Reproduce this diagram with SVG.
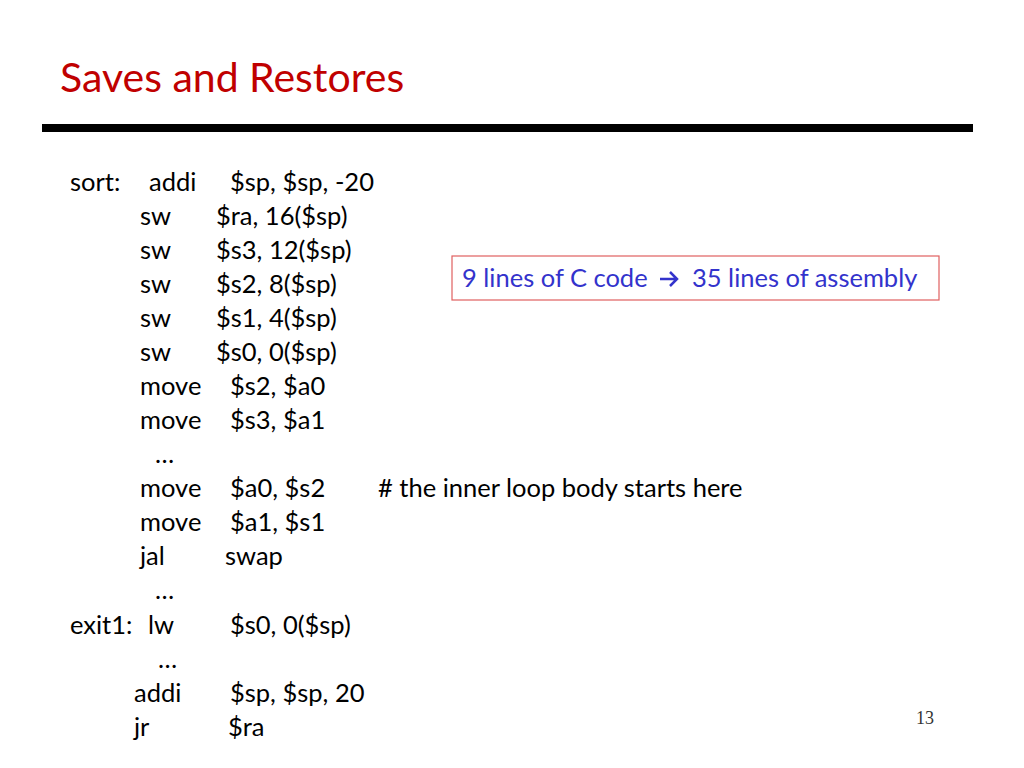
<svg xmlns="http://www.w3.org/2000/svg" width="1024" height="768" viewBox="0 0 1024 768">
<style>
.t{font-family:Lato,"Open Sans","Liberation Sans",sans-serif;font-size:25.5px;fill:#000}
.b{fill:#3333cc}
</style>
<rect width="1024" height="768" fill="#fff"/>
<text x="60" y="92" font-family="Lato,'Open Sans','Liberation Sans',sans-serif" font-size="41" fill="#c00000">Saves and Restores</text>
<rect x="42" y="124" width="931" height="8" fill="#000"/>
<g>
<text x="70" y="191" class="t">sort:</text><text x="149" y="191" class="t">addi</text><text x="230" y="191" class="t">$sp, $sp, -20</text>
<text x="140" y="225" class="t">sw</text><text x="216" y="225" class="t">$ra, 16($sp)</text>
<text x="140" y="259" class="t">sw</text><text x="216" y="259" class="t">$s3, 12($sp)</text>
<text x="140" y="293" class="t">sw</text><text x="216" y="293" class="t">$s2, 8($sp)</text>
<text x="140" y="327" class="t">sw</text><text x="216" y="327" class="t">$s1, 4($sp)</text>
<text x="140" y="361" class="t">sw</text><text x="216" y="361" class="t">$s0, 0($sp)</text>
<text x="140" y="395" class="t">move</text><text x="230" y="395" class="t">$s2, $a0</text>
<text x="140" y="429" class="t">move</text><text x="230" y="429" class="t">$s3, $a1</text>
<text x="155" y="463" class="t">…</text>
<text x="140" y="497" class="t">move</text><text x="230" y="497" class="t">$a0, $s2</text><text x="378" y="497" class="t"># the inner loop body starts here</text>
<text x="140" y="531" class="t">move</text><text x="230" y="531" class="t">$a1, $s1</text>
<text x="140" y="565" class="t">jal</text><text x="225" y="565" class="t">swap</text>
<text x="155" y="599" class="t">…</text>
<text x="70" y="634" class="t">exit1:</text><text x="148" y="634" class="t">lw</text><text x="230" y="634" class="t">$s0, 0($sp)</text>
<text x="158" y="668" class="t">…</text>
<text x="134" y="702" class="t">addi</text><text x="230" y="702" class="t">$sp, $sp, 20</text>
<text x="134" y="736" class="t">jr</text><text x="228" y="736" class="t">$ra</text>
</g>
<g id="note">
<rect x="452" y="256" width="487" height="44" fill="none" stroke="#e06060" stroke-width="1.2"/>
<text x="462" y="287" class="t b">9 lines of C code</text>
<path d="M660 279 H677 M670 272 L677 279 L670 286" stroke="#3333cc" stroke-width="2.5" fill="none"/>
<text x="692" y="287" class="t b">35 lines of assembly</text>
</g>
<text x="916" y="724" font-family="'Liberation Serif',serif" font-size="18" fill="#333">13</text>
</svg>
